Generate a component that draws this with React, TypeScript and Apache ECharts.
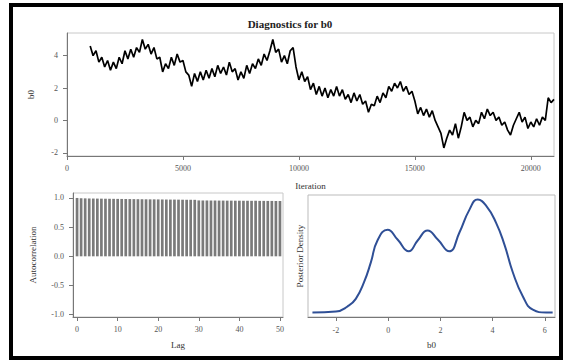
import React, { useEffect, useRef } from "react";
import * as echarts from "echarts";

// Trace of b0: one value every 125 iterations from iteration 1000 (read as the band's alternating top/bottom)
const traceStart = 1000;
const traceStep = 125;
const traceValue = [
  4.6, 4.0, 4.3, 3.6, 3.9, 3.3, 3.7, 3.1, 3.6,
  3.2, 3.9, 3.5, 4.3, 3.8, 4.4, 3.9, 4.5,
  4.2, 5.0, 4.4, 4.7, 4.1, 4.5, 3.8, 3.9,
  3.0, 3.5, 3.2, 3.9, 3.4, 4.1, 3.6, 3.7,
  3.0, 2.8, 2.1, 2.9, 2.4, 3.0, 2.5, 3.1,
  2.6, 3.2, 2.7, 3.4, 2.9, 3.3, 2.8, 3.6,
  3.0, 3.2, 2.5, 3.0, 2.6, 3.4, 2.9, 3.5,
  3.2, 3.8, 3.4, 4.1, 3.7, 4.3, 5.0, 4.2,
  4.4, 3.6, 4.0, 3.5, 4.3, 4.5, 3.3, 2.5,
  3.0, 2.4, 2.7, 1.9, 2.3, 1.6, 2.1, 1.5,
  2.0, 1.4, 1.9, 1.5, 2.1, 1.5, 1.9, 1.3,
  1.6, 1.1, 1.7, 1.2, 1.6, 1.0, 1.2, 0.5,
  1.0, 0.9, 1.5, 1.1, 1.7, 1.4, 2.1, 1.8,
  2.3, 2.0, 2.4, 1.8, 2.1, 1.6, 1.8, 1.2,
  0.4, 0.8, 0.3, 0.7, 0.2, 0.6, 0.0, -0.4,
  -0.8, -1.7, -1.1, -0.6, -0.9, -0.2, -1.1, -0.4,
  0.5, 0.0, 0.2, -0.4, 0.0, -0.2, 0.5, 0.1,
  0.7, 0.3, 0.5, 0.0, 0.2, -0.3, -0.1, -0.6,
  -0.9, -0.3, 0.1, 0.5, -0.1, 0.2, -0.5, -0.1,
  -0.4, 0.1, -0.3, 0.2, 0.0, 1.4, 1.1, 1.3,
];

// Autocorrelation by lag
const acfLags = [0, 1, 2, 3, 4, 5, 6, 7, 8, 9, 10, 11, 12, 13, 14, 15, 16, 17, 18, 19, 20, 21, 22, 23, 24, 25, 26, 27, 28, 29, 30, 31, 32, 33, 34, 35, 36, 37, 38, 39, 40, 41, 42, 43, 44, 45, 46, 47, 48, 49, 50];
const acfValues = [1.0, 0.995, 0.993, 0.991, 0.99, 0.989, 0.988, 0.987, 0.986, 0.985, 0.984, 0.983, 0.982, 0.981, 0.98, 0.979, 0.978, 0.977, 0.976, 0.976, 0.975, 0.974, 0.973, 0.972, 0.972, 0.971, 0.97, 0.969, 0.969, 0.968, 0.958, 0.957, 0.957, 0.956, 0.956, 0.955, 0.955, 0.954, 0.954, 0.953, 0.953, 0.952, 0.952, 0.951, 0.951, 0.95, 0.95, 0.949, 0.949, 0.948, 0.948];

// Posterior density of b0
const densX = [-2.9, -2.0, -1.55, -1.24, -0.92, -0.66, -0.41, -0.02, 0.36, 0.79, 1.13, 1.51, 1.9, 2.34, 2.73, 3.11, 3.43, 3.75, 4.13, 4.46, 4.77, 5.16, 5.54, 6.05, 6.3];
const densY = [0, 0.002, 0.013, 0.029, 0.065, 0.107, 0.153, 0.176, 0.155, 0.13, 0.153, 0.174, 0.155, 0.13, 0.17, 0.218, 0.24, 0.227, 0.191, 0.143, 0.086, 0.034, 0.006, 0, 0];

const traceTicksX = [0, 5000, 10000, 15000, 20000];
const traceTicksY = [-2, 0, 2, 4];
const acfTicksX = [0, 10, 20, 30, 40, 50];
const acfTicksY = [-1.0, -0.5, 0.0, 0.5, 1.0];
const densTicksX = [-2, 0, 2, 4, 6];

const FONT = "'Liberation Serif', 'DejaVu Serif', serif";
const LABEL_COLOR = "#555";
const AXIS_COLOR = "#777";

function axisCommon(ticks: number[], fmt: (v: number) => string = (v) => String(v), margin = 8) {
  return {
    axisLine: { show: true, onZero: false, lineStyle: { color: AXIS_COLOR, width: 1 } },
    axisTick: { show: true, customValues: ticks, length: 4, lineStyle: { color: AXIS_COLOR } },
    axisLabel: {
      customValues: ticks,
      margin,
      fontFamily: FONT,
      fontSize: 8,
      color: LABEL_COLOR,
      formatter: (v: number) => fmt(v),
    },
    splitLine: { show: false },
    nameTextStyle: { fontFamily: FONT, fontSize: 9, color: "#333" },
  };
}

export default function App() {
  const ref = useRef<HTMLDivElement>(null);
  useEffect(() => {
    if (!ref.current) return;
    const chart = echarts.init(ref.current, undefined, { renderer: "svg" });
    const option = {
      animation: false,
      backgroundColor: "#fff",
      graphic: [
        {
          type: "rect",
          shape: { x: 11, y: 5, width: 550, height: 353 },
          style: { fill: "none", stroke: "#000", lineWidth: 4 },
          silent: true,
        },
        {
          type: "text",
          x: 290,
          y: 24,
          style: {
            text: "Diagnostics for b0",
            fontFamily: FONT,
            fontSize: 11,
            fontWeight: "bold",
            fill: "#222",
            align: "center",
            verticalAlign: "middle",
          },
        },
      ],
      grid: [
        { left: 67, top: 33, width: 487, height: 123, show: true, borderColor: "#c8c8c8", borderWidth: 1, backgroundColor: "transparent" },
        { left: 73, top: 193, width: 210, height: 124, show: true, borderColor: "#c8c8c8", borderWidth: 1, backgroundColor: "transparent" },
        { left: 308, top: 195, width: 247, height: 122, show: true, borderColor: "#bbb", borderWidth: 1, backgroundColor: "transparent" },
      ],
      xAxis: [
        {
          type: "value", gridIndex: 0, min: 0, max: 21000,
          name: "Iteration", nameLocation: "middle", nameGap: 25,
          ...axisCommon(traceTicksX),
        },
        {
          type: "value", gridIndex: 1, min: -1, max: 50.75,
          name: "Lag", nameLocation: "middle", nameGap: 23,
          ...axisCommon(acfTicksX),
        },
        {
          type: "value", gridIndex: 2, min: -3.07, max: 6.39,
          name: "b0", nameLocation: "middle", nameGap: 23,
          ...axisCommon(densTicksX, undefined, 9),
        },
      ],
      yAxis: [
        {
          type: "value", gridIndex: 0, min: -2.2, max: 5.4,
          name: "b0", nameLocation: "middle", nameGap: 32,
          ...axisCommon(traceTicksY, undefined, 9),
        },
        {
          type: "value", gridIndex: 1, min: -1.04, max: 1.085,
          name: "Autocorrelation", nameLocation: "middle", nameGap: 36,
          ...axisCommon(acfTicksY, (v) => v.toFixed(1), 9),
        },
        {
          type: "value", gridIndex: 2, min: -0.0096, max: 0.2496,
          name: "Posterior Density", nameLocation: "middle", nameGap: 4,
          axisLine: { show: false },
          axisTick: { show: false },
          axisLabel: { show: false },
          splitLine: { show: false },
          nameTextStyle: { fontFamily: FONT, fontSize: 9, color: "#333" },
        },
      ],
      series: [
        {
          type: "line", xAxisIndex: 0, yAxisIndex: 0,
          data: traceValue.map((v, i) => [traceStart + i * traceStep, v]),
          showSymbol: false, symbol: "none",
          lineStyle: { color: "#000", width: 1.7 },
        },
        {
          type: "bar", xAxisIndex: 1, yAxisIndex: 1,
          data: acfLags.map((x, i) => [x, acfValues[i]]),
          barWidth: 2.7,
          itemStyle: { color: "#7a7a7a" },
        },
        {
          type: "line", xAxisIndex: 2, yAxisIndex: 2,
          data: densX.map((x, i) => [x, densY[i]]),
          smooth: true, showSymbol: false, symbol: "none",
          lineStyle: { color: "#2f4f96", width: 2 },
        },
      ],
    };
    chart.setOption(option as any);
    return () => chart.dispose();
  }, []);
  return <div ref={ref} style={{ position: "fixed", left: 0, top: 0, width: 566, height: 364 }} />;
}
